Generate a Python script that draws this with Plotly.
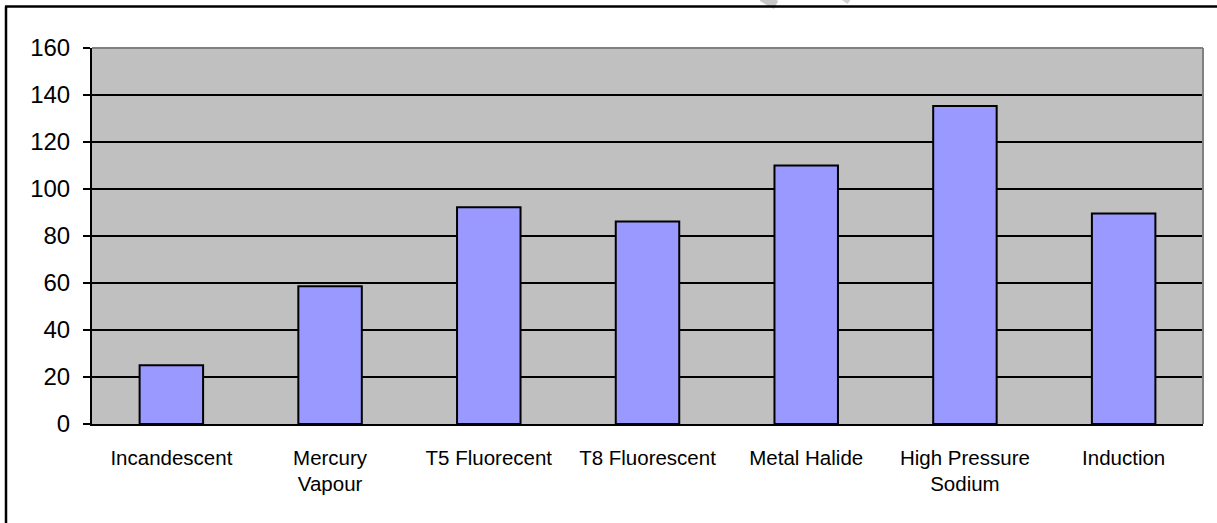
import plotly.graph_objects as go

categories = ["Incandescent", "Mercury<br>Vapour", "T5 Fluorecent", "T8 Fluorescent",
              "Metal Halide", "High Pressure<br>Sodium", "Induction"]
values = [25, 58.6, 92.2, 86.2, 110, 135.3, 89.6]
y_ticks = [0, 20, 40, 60, 80, 100, 120, 140, 160]

W, H = 1217, 523
L, R, T, B = 92, 1203, 48, 424
pw, ph = R - L, B - T

def px_x(x):
    return (x - L) / pw

def px_y(y):
    return (B - y) / ph

fig = go.Figure(go.Bar(
    x=categories, y=values,
    marker=dict(color="#9999FF", line=dict(color="black", width=2)),
    width=0.4,
))

shapes = [
    # faint watermark strokes at the very top
    dict(type="line", xref="paper", yref="paper", x0=px_x(762), x1=px_x(776),
         y0=px_y(-3), y1=px_y(5), line=dict(color="#C8C8C8", width=9)),
    dict(type="line", xref="paper", yref="paper", x0=px_x(842), x1=px_x(849),
         y0=px_y(-3), y1=px_y(2), line=dict(color="#D0D0D0", width=5)),
    # outer frame (left + top)
    dict(type="line", xref="paper", yref="paper", x0=px_x(6), x1=px_x(6),
         y0=px_y(6.5), y1=px_y(540), line=dict(color="black", width=2.5)),
    dict(type="line", xref="paper", yref="paper", x0=px_x(5), x1=px_x(1230),
         y0=px_y(6.5), y1=px_y(6.5), line=dict(color="black", width=2.5)),
    # plot area top/right border (gray)
    dict(type="line", xref="paper", yref="paper", x0=0, x1=1, y0=1, y1=1,
         line=dict(color="#808080", width=2), layer="above"),
    dict(type="line", xref="paper", yref="paper", x0=1, x1=1, y0=0, y1=1,
         line=dict(color="#808080", width=2), layer="above"),
]

fig.update_layout(
    width=W, height=H,
    margin=dict(l=L, r=W - R, t=T, b=H - B),
    paper_bgcolor="white",
    plot_bgcolor="#C0C0C0",
    font=dict(family="Liberation Sans, Arial, sans-serif", color="black"),
    showlegend=False,
    bargap=0.6,
    shapes=shapes,
    xaxis=dict(
        showline=True, linecolor="black", linewidth=2,
        ticks="", showgrid=False,
        tickfont=dict(size=20.5),
        ticklabelstandoff=14,
    ),
    yaxis=dict(
        range=[0, 160], tickvals=y_ticks,
        showline=True, linecolor="black", linewidth=2,
        ticks="outside", ticklen=7, tickwidth=2, tickcolor="black",
        showgrid=True, gridcolor="black", gridwidth=1.5,
        zeroline=False,
        tickfont=dict(size=24),
        ticklabelstandoff=8,
    ),
)

fig.write_html("out.html")
